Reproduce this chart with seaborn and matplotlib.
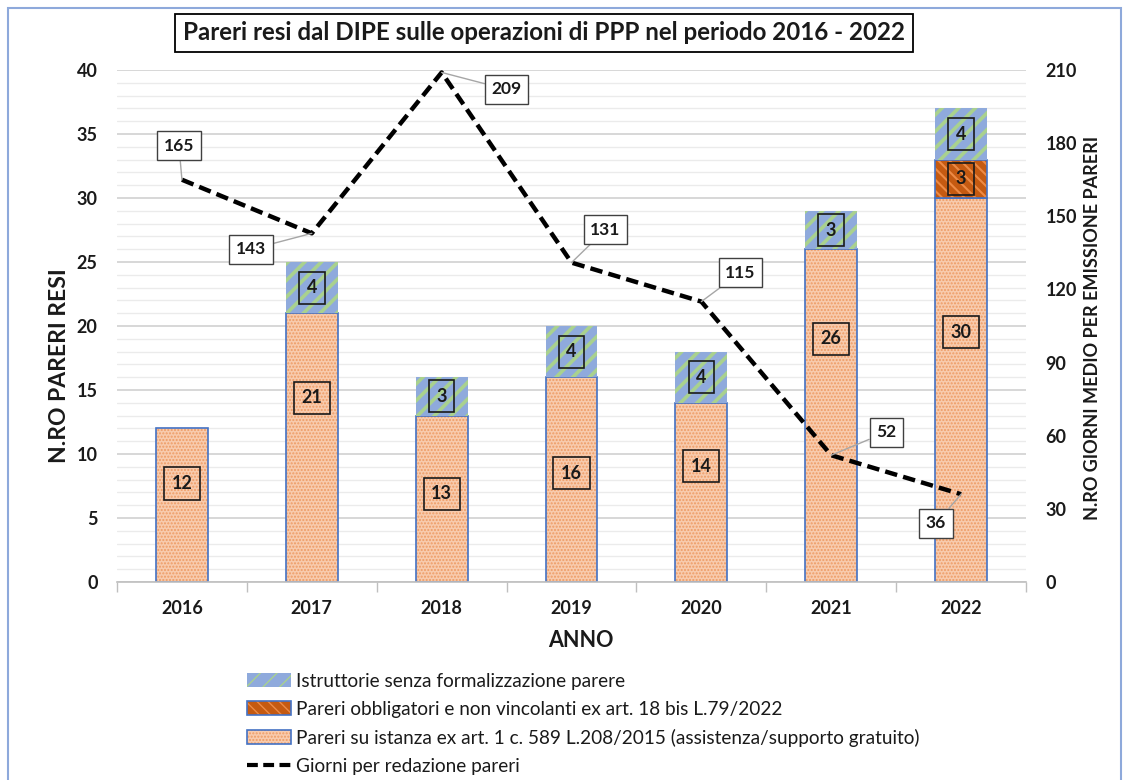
import numpy as np
import pandas as pd
import matplotlib
matplotlib.use("Agg")
import matplotlib.pyplot as plt
import matplotlib.colors as mcolors
from matplotlib.patches import Patch, Rectangle
from matplotlib.lines import Line2D
from matplotlib.ticker import MultipleLocator
import seaborn as sns

# ---------------- data ----------------
years = ["2016", "2017", "2018", "2019", "2020", "2021", "2022"]
pareri_istanza = [12, 21, 13, 16, 14, 26, 30]
pareri_obbligatori = [0, 0, 0, 0, 0, 0, 3]
istruttorie = [0, 4, 3, 4, 4, 3, 4]
giorni = [165, 143, 209, 131, 115, 52, 36]

title = "Pareri resi dal DIPE sulle operazioni di PPP nel periodo 2016 - 2022"
lab_istr = "Istruttorie senza formalizzazione parere"
lab_obbl = "Pareri obbligatori e non vincolanti ex art. 18 bis L.79/2022"
lab_ist = "Pareri su istanza ex art. 1 c. 589 L.208/2015 (assistenza/supporto gratuito)"
lab_giorni = "Giorni per redazione pareri"
ylabel_left = "N.RO PARERI RESI"
ylabel_right = "N.RO GIORNI MEDIO PER EMISSIONE PARERI"
xlabel = "ANNO"

# ---------------- layout / style ----------------
base_label_y = [7.7, 14.4, 6.9, 8.5, 9.05, 19.0, 19.5]   # label placement (layout)
line_label_offsets = [(-3, 34), (-61, -16), (65, -17), (34, 33), (39, 29), (55, 23), (-25, -29)]

sns.set_theme(style="white")
plt.rcParams['font.family'] = ['Lato', 'DejaVu Sans']
plt.rcParams['hatch.linewidth'] = 1.0

STY_IST = dict(face='#F8CBAD', hatch='.....', hcolor='#EE9B64', edge='#4472C4', lw=1.2, hlw=1.0)
STY_OBB = dict(face='#C55A11', hatch='\\\\\\', hcolor='#ED8A45', edge='#4472C4', lw=1.2, hlw=1.5)
STY_ISTR = dict(face='#8FAADC', hatch='//', hcolor='#A9D18E', edge='#8FAADC', lw=0.0, hlw=2.6)
TXT = '#1a1a1a'


def style_patch(p, face, hatch, hcolor, edge, lw, hlw):
    p.set_facecolor(face)
    p.set_hatch(hatch)
    p.set_edgecolor(edge)
    p.set_linewidth(lw)
    p._hatch_color = mcolors.to_rgba(hcolor)
    if hasattr(p, 'set_hatch_linewidth'):
        p.set_hatch_linewidth(hlw)


fig = plt.figure(figsize=(11.29, 7.8), dpi=100)
ax = fig.add_axes([117 / 1129, 1 - 582 / 780, 909 / 1129, 512 / 780])

df = pd.DataFrame({"anno": years, "istanza": pareri_istanza,
                   "obbl": pareri_obbligatori, "istr": istruttorie})
bottom_obbl = df["istanza"].to_numpy()
bottom_istr = (df["istanza"] + df["obbl"]).to_numpy()


def layer(col, bottom, sty):
    n0 = len(ax.patches)
    sns.barplot(data=df, x="anno", y=col, order=years, color=sty['face'],
                saturation=1, errorbar=None, width=0.4, bottom=bottom,
                ax=ax, zorder=2)
    for p in ax.patches[n0:]:
        style_patch(p, **sty)
        if p.get_height() == 0:
            p.set_visible(False)


layer("istanza", 0, STY_IST)
layer("obbl", bottom_obbl, STY_OBB)
layer("istr", bottom_istr, STY_ISTR)

# bar value labels
lab_kw = dict(ha='center', va='center', fontsize=13, fontweight='bold', color=TXT,
              bbox=dict(boxstyle='square,pad=0.42', fc='none', ec=TXT, lw=1.2), zorder=4)
for i, v in enumerate(pareri_istanza):
    ax.text(i, base_label_y[i], str(v), **lab_kw)
for i, v in enumerate(pareri_obbligatori):
    if v:
        ax.text(i, bottom_obbl[i] + v / 2, str(v), **lab_kw)
for i, v in enumerate(istruttorie):
    if v:
        ax.text(i, bottom_istr[i] + v / 2, str(v), **lab_kw)

# axes styling (left)
ax.set_xlim(-0.5, 6.5)
ax.set_ylim(0, 40)
ax.set_yticks(range(0, 41, 5))
ax.yaxis.set_minor_locator(MultipleLocator(1))
ax.set_xticks(np.arange(-0.5, 7, 1), minor=True)
ax.grid(axis='y', which='major', color='#D4D4D4', lw=1.3)
ax.grid(axis='y', which='minor', color='#EBEBEB', lw=1.0)
ax.set_axisbelow(True)
for s in ['top', 'right', 'left']:
    ax.spines[s].set_visible(False)
ax.spines['bottom'].set_color('#BFBFBF')
ax.spines['bottom'].set_linewidth(1.2)
ax.tick_params(axis='x', which='major', length=0, pad=13, labelsize=13)
ax.tick_params(axis='x', which='minor', bottom=True, length=7, width=1, color='#BFBFBF')
ax.tick_params(axis='y', which='both', length=0, pad=14, labelsize=13)
for t in ax.get_xticklabels() + ax.get_yticklabels():
    t.set_fontweight('bold')
    t.set_color(TXT)
ax.set_xlabel(xlabel, fontsize=15.5, fontweight='bold', color=TXT)
ax.xaxis.set_label_coords(0.510, -0.093)
ax.set_ylabel(ylabel_left, fontsize=16.5, fontweight='bold', color=TXT)
ax.yaxis.set_label_coords(-0.0517, 0.422)

# line on secondary axis
ax2 = ax.twinx()
xpos = np.arange(len(years))
sns.lineplot(x=xpos, y=giorni, ax=ax2, color='black', lw=3.2,
             linestyle=(0, (2.8, 1.4)), zorder=5)
ax2.set_ylim(0, 210)
ax2.set_xlim(-0.5, 6.5)
ax2.set_yticks(range(0, 211, 30))
ax2.grid(False)
for s in ax2.spines.values():
    s.set_visible(False)
ax2.tick_params(axis='y', which='both', length=0, pad=14, labelsize=13, right=False)
for t in ax2.get_yticklabels():
    t.set_fontweight('bold')
    t.set_color(TXT)
ax2.set_ylabel(ylabel_right, fontsize=13, fontweight='bold', color=TXT)
ax2.yaxis.set_label_coords(1.0637, 0.496)
ax2.set_xlabel("")

for x, v, off in zip(xpos, giorni, line_label_offsets):
    ax2.annotate(str(v), xy=(x, v), xytext=off, textcoords='offset pixels',
                 ha='center', va='center', fontsize=12.5, fontweight='bold', color=TXT,
                 bbox=dict(boxstyle='square,pad=0.38', fc='white', ec='#404040', lw=1),
                 arrowprops=dict(arrowstyle='-', color='#A6A6A6', lw=1, shrinkA=0, shrinkB=0),
                 zorder=6)

# title
fig.text(544 / 1129, 1 - 33 / 780, title, ha='center', va='center', fontsize=17.4,
         fontweight='bold', color=TXT,
         bbox=dict(boxstyle='square,pad=0.32', fc='white', ec='black', lw=1.3))

# legend
h_istr = Patch()
style_patch(h_istr, **STY_ISTR)
h_obb = Patch()
style_patch(h_obb, **STY_OBB)
h_ist = Patch()
style_patch(h_ist, **STY_IST)
h_line = Line2D([], [], color='black', lw=3, linestyle=(0, (2.6, 1.3)))
leg = fig.legend([h_istr, h_obb, h_ist, h_line], [lab_istr, lab_obbl, lab_ist, lab_giorni],
                 loc='upper left', bbox_to_anchor=(247 / 1129, 1 - 673 / 780), frameon=False,
                 fontsize=13.7, handlelength=2.3, handleheight=0.75, handletextpad=0.25,
                 labelspacing=0.57, borderaxespad=0, borderpad=0)
for t in leg.get_texts():
    t.set_color(TXT)

# outer border
fig.add_artist(Rectangle((8 / 1129, -0.02), 1113 / 1129, 1.0097, transform=fig.transFigure,
                         fill=False, ec='#8EA9DB', lw=1.5))

fig.savefig('out.png', dpi=100)
